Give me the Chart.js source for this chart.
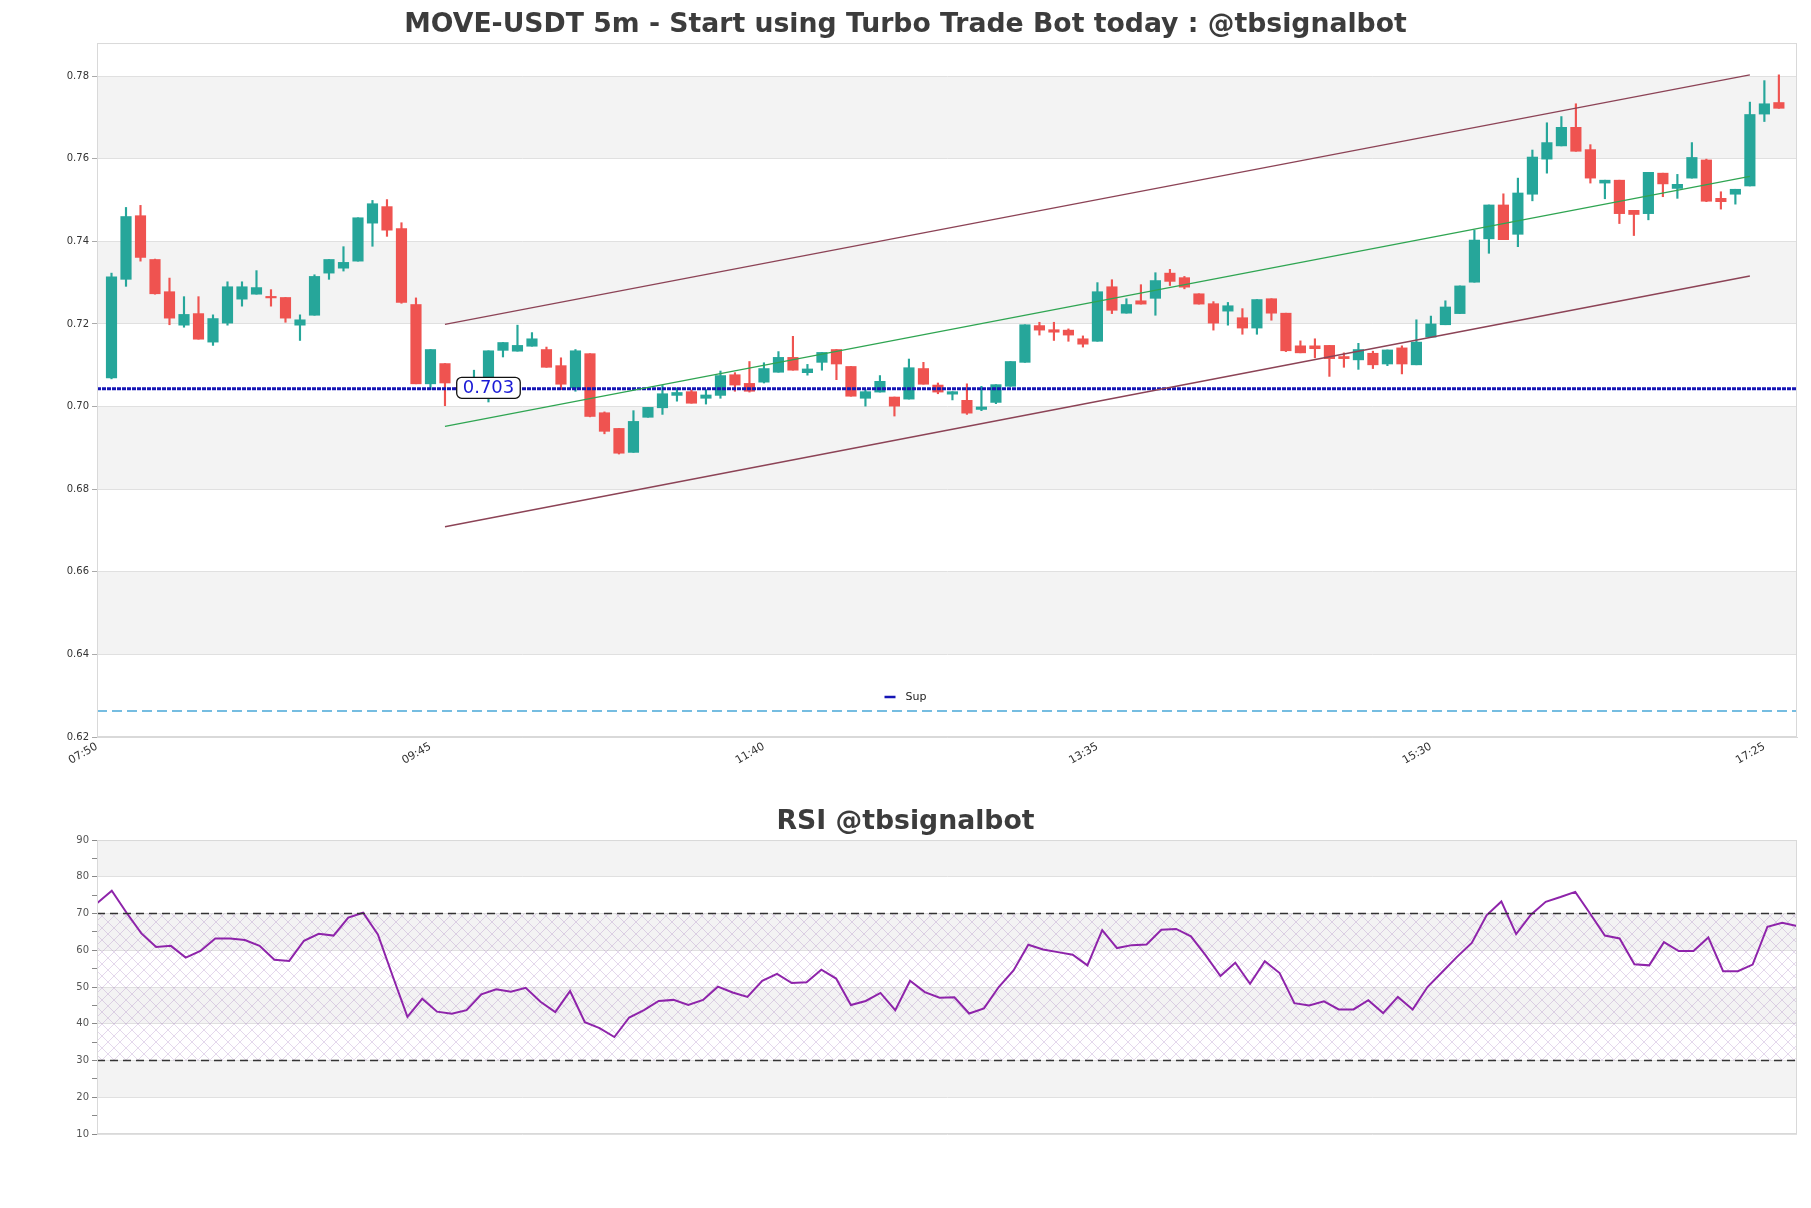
<!DOCTYPE html>
<html>
<head>
<meta charset="utf-8">
<title>MOVE-USDT 5m</title>
<script src="https://cdn.jsdelivr.net/npm/chart.js@4.4.1/dist/chart.umd.min.js"></script>
<style>
  html, body { margin: 0; padding: 0; background: #fff; }
  #wrap { position: relative; width: 1811px; height: 1208px; }
  #price { position: absolute; left: 0; top: 0; }
  #rsi { position: absolute; left: 0; top: 790px; }
</style>
</head>
<body>
<div id="wrap">
  <canvas id="price" width="1811" height="790"></canvas>
  <canvas id="rsi" width="1811" height="418"></canvas>
</div>
<script>
// x slots: 0 = 07:50, one slot per 5 minutes, first candle is 07:55
const tickSlots = [0, 23, 46, 69, 92, 115];
const tickLabels = ['07:50', '09:45', '11:40', '13:35', '15:30', '17:25'];
const priceTicks = [0.62, 0.64, 0.66, 0.68, 0.70, 0.72, 0.74, 0.76, 0.78];
const rsiMajor = [10, 20, 30, 40, 50, 60, 70, 80, 90];

const opens = [0.7069,0.7308,0.7462,0.7356,0.7278,0.7197,0.7225,0.7156,0.7202,0.7260,
  0.7272,0.7266,0.7264,0.7197,0.7221,0.7323,0.7335,0.7352,0.7444,0.7484,
  0.7431,0.7247,0.7055,0.7104,0.7045,0.7040,0.7040,0.7136,0.7134,0.7146,
  0.7138,0.7099,0.7045,0.7128,0.6985,0.6947,0.6889,0.6974,0.6997,0.7027,
  0.7036,0.7020,0.7027,0.7077,0.7056,0.7059,0.7083,0.7119,0.7082,0.7107,
  0.7138,0.7097,0.7020,0.7035,0.7023,0.7018,0.7092,0.7052,0.7030,0.7015,
  0.6993,0.7010,0.7049,0.7107,0.7196,0.7186,0.7185,0.7164,0.7158,0.7290,
  0.7226,0.7256,0.7262,0.7323,0.7312,0.7273,0.7249,0.7231,0.7215,0.7190,
  0.7261,0.7226,0.7147,0.7147,0.7148,0.7121,0.7113,0.7129,0.7103,0.7142,
  0.7101,0.7168,0.7198,0.7225,0.7301,0.7406,0.7488,0.7417,0.7514,0.7599,
  0.7631,0.7676,0.7622,0.7541,0.7548,0.7475,0.7467,0.7565,0.7528,0.7553,
  0.7597,0.7504,0.7514,0.7534,0.7708,0.7736];
const highs = [0.7323,0.7482,0.7487,0.7357,0.7311,0.7266,0.7266,0.7222,0.7302,0.7302,
  0.7329,0.7283,0.7264,0.7222,0.7319,0.7356,0.7387,0.7457,0.7499,0.7501,
  0.7445,0.7263,0.7138,0.7104,0.7048,0.7088,0.7135,0.7155,0.7197,0.7179,
  0.7144,0.7118,0.7138,0.7128,0.6987,0.6947,0.6990,0.6998,0.7051,0.7045,
  0.7040,0.7041,0.7086,0.7082,0.7109,0.7106,0.7133,0.7170,0.7102,0.7131,
  0.7138,0.7097,0.7041,0.7075,0.7023,0.7115,0.7107,0.7057,0.7036,0.7055,
  0.7049,0.7053,0.7109,0.7198,0.7204,0.7204,0.7188,0.7171,0.7300,0.7307,
  0.7261,0.7295,0.7324,0.7332,0.7315,0.7273,0.7254,0.7252,0.7237,0.7259,
  0.7261,0.7226,0.7159,0.7164,0.7148,0.7130,0.7153,0.7134,0.7137,0.7147,
  0.7210,0.7219,0.7256,0.7292,0.7427,0.7488,0.7515,0.7553,0.7621,0.7687,
  0.7702,0.7733,0.7634,0.7548,0.7548,0.7475,0.7567,0.7565,0.7562,0.7639,
  0.7599,0.7520,0.7526,0.7737,0.7789,0.7803];
const lows = [0.7067,0.7291,0.7352,0.7272,0.7198,0.7192,0.7163,0.7148,0.7197,0.7243,
  0.7272,0.7243,0.7204,0.7160,0.7221,0.7308,0.7328,0.7352,0.7388,0.7412,
  0.7250,0.7055,0.7041,0.7002,0.7038,0.7035,0.7011,0.7120,0.7134,0.7146,
  0.7095,0.7041,0.7037,0.6975,0.6934,0.6885,0.6889,0.6974,0.6981,0.7013,
  0.7008,0.7006,0.7020,0.7037,0.7035,0.7057,0.7083,0.7088,0.7076,0.7088,
  0.7065,0.7025,0.7001,0.7035,0.6977,0.7018,0.7054,0.7031,0.7016,0.6981,
  0.6990,0.7007,0.7049,0.7107,0.7173,0.7160,0.7158,0.7144,0.7158,0.7225,
  0.7226,0.7248,0.7221,0.7293,0.7285,0.7248,0.7185,0.7197,0.7175,0.7175,
  0.7209,0.7133,0.7130,0.7118,0.7073,0.7095,0.7090,0.7092,0.7099,0.7079,
  0.7101,0.7168,0.7198,0.7225,0.7301,0.7371,0.7404,0.7387,0.7498,0.7565,
  0.7631,0.7618,0.7541,0.7503,0.7443,0.7414,0.7452,0.7508,0.7504,0.7553,
  0.7496,0.7478,0.7490,0.7534,0.7690,0.7722];
const closes = [0.7314,0.7460,0.7361,0.7273,0.7214,0.7223,0.7163,0.7213,0.7290,0.7290,
  0.7288,0.7263,0.7214,0.7210,0.7315,0.7356,0.7349,0.7457,0.7491,0.7427,
  0.7252,0.7055,0.7138,0.7057,0.7042,0.7065,0.7135,0.7155,0.7148,0.7164,
  0.7095,0.7054,0.7135,0.6976,0.6940,0.6887,0.6964,0.6998,0.7031,0.7034,
  0.7008,0.7028,0.7075,0.7052,0.7037,0.7092,0.7119,0.7088,0.7091,0.7131,
  0.7103,0.7025,0.7036,0.7061,0.7001,0.7094,0.7054,0.7035,0.7036,0.6984,
  0.6999,0.7053,0.7109,0.7198,0.7185,0.7180,0.7173,0.7151,0.7278,0.7233,
  0.7247,0.7248,0.7305,0.7303,0.7289,0.7248,0.7202,0.7244,0.7190,0.7259,
  0.7226,0.7135,0.7130,0.7140,0.7116,0.7116,0.7138,0.7101,0.7137,0.7103,
  0.7156,0.7200,0.7241,0.7292,0.7403,0.7488,0.7404,0.7517,0.7604,0.7639,
  0.7676,0.7618,0.7553,0.7548,0.7467,0.7465,0.7567,0.7539,0.7538,0.7603,
  0.7497,0.7496,0.7526,0.7707,0.7733,0.7722];

const rsiValues = [72.8,76.2,70.2,64.6,60.9,61.2,58.0,59.8,63.2,63.2,
  62.8,61.2,57.4,57.1,62.6,64.5,64.0,68.9,70.2,64.3,
  53.0,41.9,46.8,43.3,42.7,43.7,48.0,49.4,48.7,49.8,
  46.0,43.2,48.9,40.4,38.8,36.4,41.7,43.7,46.2,46.5,
  45.1,46.5,50.1,48.5,47.3,51.7,53.6,51.1,51.3,54.7,
  52.3,45.1,46.2,48.4,43.7,51.7,48.6,47.1,47.2,42.8,
  44.2,50.0,54.5,61.5,60.2,59.5,58.8,55.9,65.5,60.6,
  61.4,61.6,65.6,65.8,63.8,58.6,53.0,56.6,50.9,57.0,
  53.8,45.6,45.0,46.1,43.9,43.9,46.4,42.9,47.3,43.9,
  50.0,54.1,58.2,62.0,69.5,73.3,64.4,69.7,73.2,74.5,
  75.9,70.0,64.0,63.2,56.2,55.9,62.2,59.8,59.8,63.5,
  54.3,54.3,56.1,66.4,67.5,66.6];

// levels
const supLevel = 0.7043;
const supLabel = '0.703';
const supLabelSlot = 27;
const lowLevel = 0.6263;
const rsiHigh = 70;
const rsiLow = 30;

// trend channel, start and end slot
const channelSlots = [24, 114];
const channelUpper = [0.7199, 0.7803];
const channelMid = [0.6952, 0.7557];
const channelLower = [0.6709, 0.7316];

const xMax = 117.25;
const UP = '#26a69a';
const DOWN = '#ef5350';

Chart.defaults.font.family = '"DejaVu Sans", sans-serif';
Chart.defaults.animation = false;

const candleColors = closes.map((c, i) => c >= opens[i] ? UP : DOWN);
const slot = i => i + 1;

// alternating grey bands between major ticks
const bandPlugin = {
  id: 'bands',
  beforeDraw(chart, args, opts) {
    const {ctx, chartArea: a, scales: {y}} = chart;
    const edges = opts.edges || [];
    ctx.save();
    ctx.fillStyle = '#f3f3f3';
    for (let k = 0; k < edges.length - 1; k++) {
      if (k % 2 === 1) {
        const top = y.getPixelForValue(edges[k + 1]);
        const bot = y.getPixelForValue(edges[k]);
        ctx.fillRect(a.left, top, a.right - a.left, bot - top);
      }
    }
    ctx.restore();
  },
  afterDraw(chart) {
    const {ctx, chartArea: a} = chart;
    ctx.save();
    ctx.strokeStyle = '#d9d9d9';
    ctx.lineWidth = 1;
    ctx.strokeRect(a.left + 0.5, a.top + 0.5, a.right - a.left - 1, a.bottom - a.top - 1);
    ctx.restore();
  }
};

function roundedBox(ctx, x, y, w, h, r) {
  ctx.beginPath();
  ctx.moveTo(x + r, y);
  ctx.arcTo(x + w, y, x + w, y + h, r);
  ctx.arcTo(x + w, y + h, x, y + h, r);
  ctx.arcTo(x, y + h, x, y, r);
  ctx.arcTo(x, y, x + w, y, r);
  ctx.closePath();
}

// price tag on the support line + the little "Sup" legend
const supTagPlugin = {
  id: 'supTag',
  afterDatasetsDraw(chart) {
    const {ctx, chartArea: a, scales: {x, y}} = chart;
    const cx = x.getPixelForValue(supLabelSlot);
    const cy = y.getPixelForValue(supLevel) - 1;
    ctx.save();
    ctx.font = '18px "DejaVu Sans"';
    const w = ctx.measureText(supLabel).width + 12;
    const h = 21;
    roundedBox(ctx, cx - w / 2, cy - h / 2, w, h, 5);
    ctx.fillStyle = '#fff';
    ctx.fill();
    ctx.lineWidth = 1.3;
    ctx.strokeStyle = '#111';
    ctx.stroke();
    ctx.fillStyle = '#1a1ad6';
    ctx.textAlign = 'center';
    ctx.textBaseline = 'middle';
    ctx.fillText(supLabel, cx, cy + 1);

    const lx = chart.width / 2;
    const ly = a.bottom - 40;
    ctx.strokeStyle = '#1515b5';
    ctx.lineWidth = 2.5;
    ctx.beginPath();
    ctx.moveTo(lx - 21, ly);
    ctx.lineTo(lx - 10, ly);
    ctx.stroke();
    ctx.font = '11px "DejaVu Sans"';
    ctx.fillStyle = '#222';
    ctx.textAlign = 'left';
    ctx.fillText('Sup', lx, ly);
    ctx.restore();
  }
};

// cross hatch between the RSI 30 and 70 levels
const hatchPlugin = {
  id: 'hatch',
  beforeDatasetsDraw(chart) {
    const {ctx, chartArea: a, scales: {y}} = chart;
    const tile = document.createElement('canvas');
    tile.width = 12; tile.height = 12;
    const g = tile.getContext('2d');
    g.strokeStyle = 'rgba(160,120,190,0.36)';
    g.lineWidth = 0.8;
    g.beginPath();
    g.moveTo(0, 0); g.lineTo(12, 12);
    g.moveTo(12, 0); g.lineTo(0, 12);
    g.stroke();
    const top = y.getPixelForValue(rsiHigh);
    const bot = y.getPixelForValue(rsiLow);
    ctx.save();
    ctx.fillStyle = ctx.createPattern(tile, 'repeat');
    ctx.fillRect(a.left, top, a.right - a.left, bot - top);
    ctx.restore();
  }
};

const lineSet = (label, xs, ys, color, width, dash) => ({
  type: 'line',
  label: label,
  data: xs.map((v, i) => ({x: v, y: ys[i]})),
  borderColor: color,
  borderWidth: width,
  borderDash: dash || [],
  pointRadius: 0,
  fill: false,
  order: 0
});

new Chart(document.getElementById('price'), {
  type: 'bar',
  data: {
    datasets: [
      {
        label: 'wick',
        data: highs.map((h, i) => ({x: slot(i), y: [lows[i], h]})),
        backgroundColor: candleColors,
        barThickness: 1.5,
        grouped: false,
        order: 2
      },
      {
        label: 'body',
        data: opens.map((o, i) => ({x: slot(i), y: [o, closes[i]]})),
        backgroundColor: candleColors,
        barThickness: 10.5,
        minBarLength: 1.5,
        grouped: false,
        order: 1
      },
      lineSet('upper', channelSlots, channelUpper, '#8c4356', 1.3),
      lineSet('mid', channelSlots, channelMid, '#2fa552', 1.3),
      lineSet('lower', channelSlots, channelLower, '#8c4356', 1.3),
      lineSet('Sup', [0, xMax], [supLevel, supLevel], '#1515b5', 3, [4, 1]),
      lineSet('low', [0, xMax], [lowLevel, lowLevel], '#4aa8d8', 1.5, [10, 5])
    ]
  },
  options: {
    responsive: false,
    devicePixelRatio: 1,
    layout: {padding: {left: 14, right: 14, top: 0, bottom: 0}},
    plugins: {
      legend: {display: false},
      tooltip: {enabled: false},
      title: {
        display: true,
        text: 'MOVE-USDT 5m - Start using Turbo Trade Bot today : @tbsignalbot',
        color: '#3c3c3c',
        font: {size: 26.7, weight: 'bold'},
        padding: {top: 9, bottom: 2}
      },
      bands: {edges: priceTicks}
    },
    scales: {
      x: {
        type: 'linear',
        min: 0,
        max: xMax,
        offset: false,
        grid: {display: false},
        border: {color: '#d9d9d9'},
        afterBuildTicks: s => { s.ticks = tickSlots.map(v => ({value: v})); },
        afterFit: s => { s.height = 53; },
        ticks: {
          autoSkip: false,
          minRotation: 30,
          maxRotation: 30,
          padding: -5,
          color: '#333',
          font: {size: 11},
          callback: (v, i) => tickLabels[i]
        }
      },
      y: {
        min: 0.62,
        max: 0.788,
        afterBuildTicks: s => { s.ticks = priceTicks.map(v => ({value: v})); },
        afterFit: s => { s.width = 83; },
        grid: {color: '#e0e0e0', tickLength: 5, tickColor: '#aaa'},
        border: {color: '#d9d9d9'},
        ticks: {
          color: '#333',
          font: {size: 10},
          padding: 3,
          callback: v => v.toFixed(2)
        }
      }
    }
  },
  plugins: [bandPlugin, supTagPlugin]
});

new Chart(document.getElementById('rsi'), {
  type: 'line',
  data: {
    datasets: [
      {
        label: 'RSI',
        data: rsiValues.map((v, i) => ({x: i, y: v})),
        borderColor: '#8e24aa',
        borderWidth: 2,
        pointRadius: 0,
        fill: false,
        order: 1
      },
      lineSet('70', [0, rsiValues.length - 1], [rsiHigh, rsiHigh], '#333', 1.5, [8, 5]),
      lineSet('30', [0, rsiValues.length - 1], [rsiLow, rsiLow], '#333', 1.5, [8, 5])
    ]
  },
  options: {
    responsive: false,
    devicePixelRatio: 1,
    layout: {padding: {left: 14, right: 14, top: 0, bottom: 74}},
    plugins: {
      legend: {display: false},
      tooltip: {enabled: false},
      title: {
        display: true,
        text: 'RSI @tbsignalbot',
        color: '#3c3c3c',
        font: {size: 26.7, weight: 'bold'},
        padding: {top: 16.5, bottom: 1.5}
      },
      bands: {edges: rsiMajor}
    },
    scales: {
      x: {
        type: 'linear',
        display: false,
        min: 0,
        max: rsiValues.length - 1
      },
      y: {
        min: 10,
        max: 90,
        afterFit: s => { s.width = 83; },
        grid: {
          color: c => rsiMajor.includes(c.tick.value) ? '#e0e0e0' : 'rgba(0,0,0,0)',
          tickColor: '#888',
          tickLength: 5
        },
        border: {color: '#d9d9d9'},
        ticks: {
          stepSize: 5,
          color: '#555',
          font: {size: 10},
          padding: 3,
          callback: v => rsiMajor.includes(v) ? String(v) : ''
        }
      }
    }
  },
  plugins: [bandPlugin, hatchPlugin]
});
</script>
</body>
</html>
